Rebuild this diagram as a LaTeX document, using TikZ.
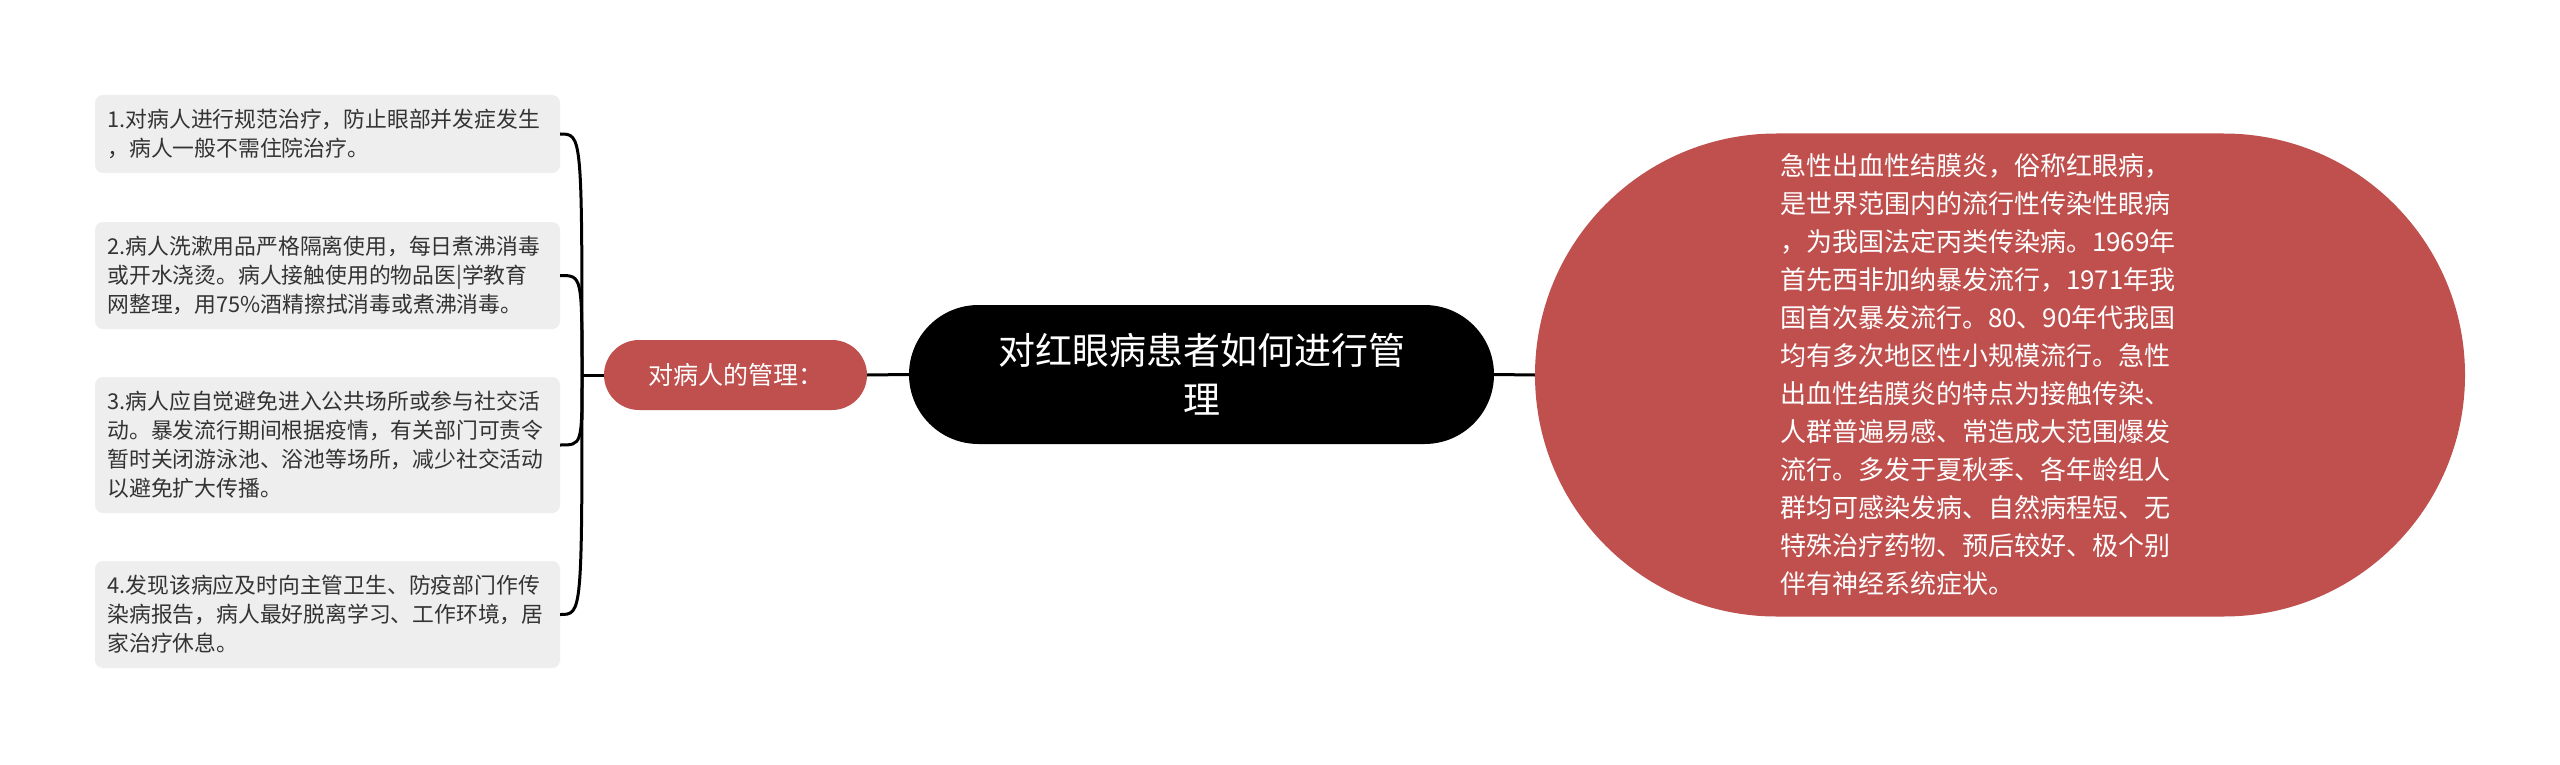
\documentclass[tikz,border=0pt]{standalone}
\usepackage{fontspec}
\setmainfont{Noto Sans CJK SC}
\usetikzlibrary{shapes.misc}

\definecolor{topicred}{RGB}{191,80,78}
\definecolor{leafgray}{RGB}{238,238,238}
\definecolor{leaftext}{RGB}{51,51,51}

\begin{document}
\begin{tikzpicture}[x=1pt,y=-1pt,
  leaf/.style={fill=leafgray,rounded corners=8pt,text width=440pt,inner xsep=12.5pt,
    inner ysep=0pt,align=left,text=leaftext,font=\fontsize{21.8}{29}\selectfont},
  branch/.style={rounded rectangle,fill=topicred,text=white,inner sep=0pt,
    minimum width=263pt,minimum height=70pt,font=\fontsize{25}{30}\selectfont},
  central/.style={rounded rectangle,fill=black,text=white,inner sep=0pt,align=center,
    minimum width=585pt,minimum height=139pt,font=\fontsize{37}{49}\selectfont},
  infoblob/.style={rounded rectangle,fill=topicred,text=white,inner sep=0pt,
    text width=440pt,align=left,minimum width=930pt,minimum height=483pt,
    font=\fontsize{26}{38}\selectfont},
  link/.style={line width=3pt}]

  % Canvas
  \fill[white] (0,0) rectangle (2560,765);
  \useasboundingbox (0,0) rectangle (2560,765);

  % Leaves
  \node[leaf,minimum height=78pt] (l1) at (327.5,134)
    {1.对病人进行规范治疗，防止眼部并发症发生\\，病人一般不需住院治疗。};
  \node[leaf,minimum height=107pt] (l2) at (327.5,275.5)
    {2.病人洗漱用品严格隔离使用，每日煮沸消毒\\或开水浇烫。病人接触使用的物品医|学教育\\网整理，用75\%酒精擦拭消毒或煮沸消毒。};
  \node[leaf,minimum height=136pt] (l3) at (327.5,445)
    {3.病人应自觉避免进入公共场所或参与社交活\\动。暴发流行期间根据疫情，有关部门可责令\\暂时关闭游泳池、浴池等场所，减少社交活动\\以避免扩大传播。};
  \node[leaf,minimum height=107pt] (l4) at (327.5,614.5)
    {4.发现该病应及时向主管卫生、防疫部门作传\\染病报告，病人最好脱离学习、工作环境，居\\家治疗休息。};

  % Branch, root and description
  \node[branch] (mgmt) at (735.5,375) {对病人的管理：};
  \node[central] (root) at (1201.5,374.5) {对红眼病患者如何进行管\\理};
  \node[infoblob] (info) at (2000,375)
    {急性出血性结膜炎，俗称红眼病，\\是世界范围内的流行性传染性眼病\\，为我国法定丙类传染病。1969年\\首先西非加纳暴发流行，1971年我\\国首次暴发流行。80、90年代我国\\均有多次地区性小规模流行。急性\\出血性结膜炎的特点为接触传染、\\人群普遍易感、常造成大范围爆发\\流行。多发于夏秋季、各年龄组人\\群均可感染发病、自然病程短、无\\特殊治疗药物、预后较好、极个别\\伴有神经系统症状。};

  % Connectors
  \coordinate (hub) at (582,375);
  \draw[link] (hub) -- (mgmt.west);
  \foreach \n in {l1,l2,l3,l4}
    \draw[link] (hub) .. controls (hub |- \n.east) .. (\n.east);
  \draw[link] (mgmt.east) -- (root.west);
  \draw[link] (root.east) -- (info.west);
\end{tikzpicture}
\end{document}
